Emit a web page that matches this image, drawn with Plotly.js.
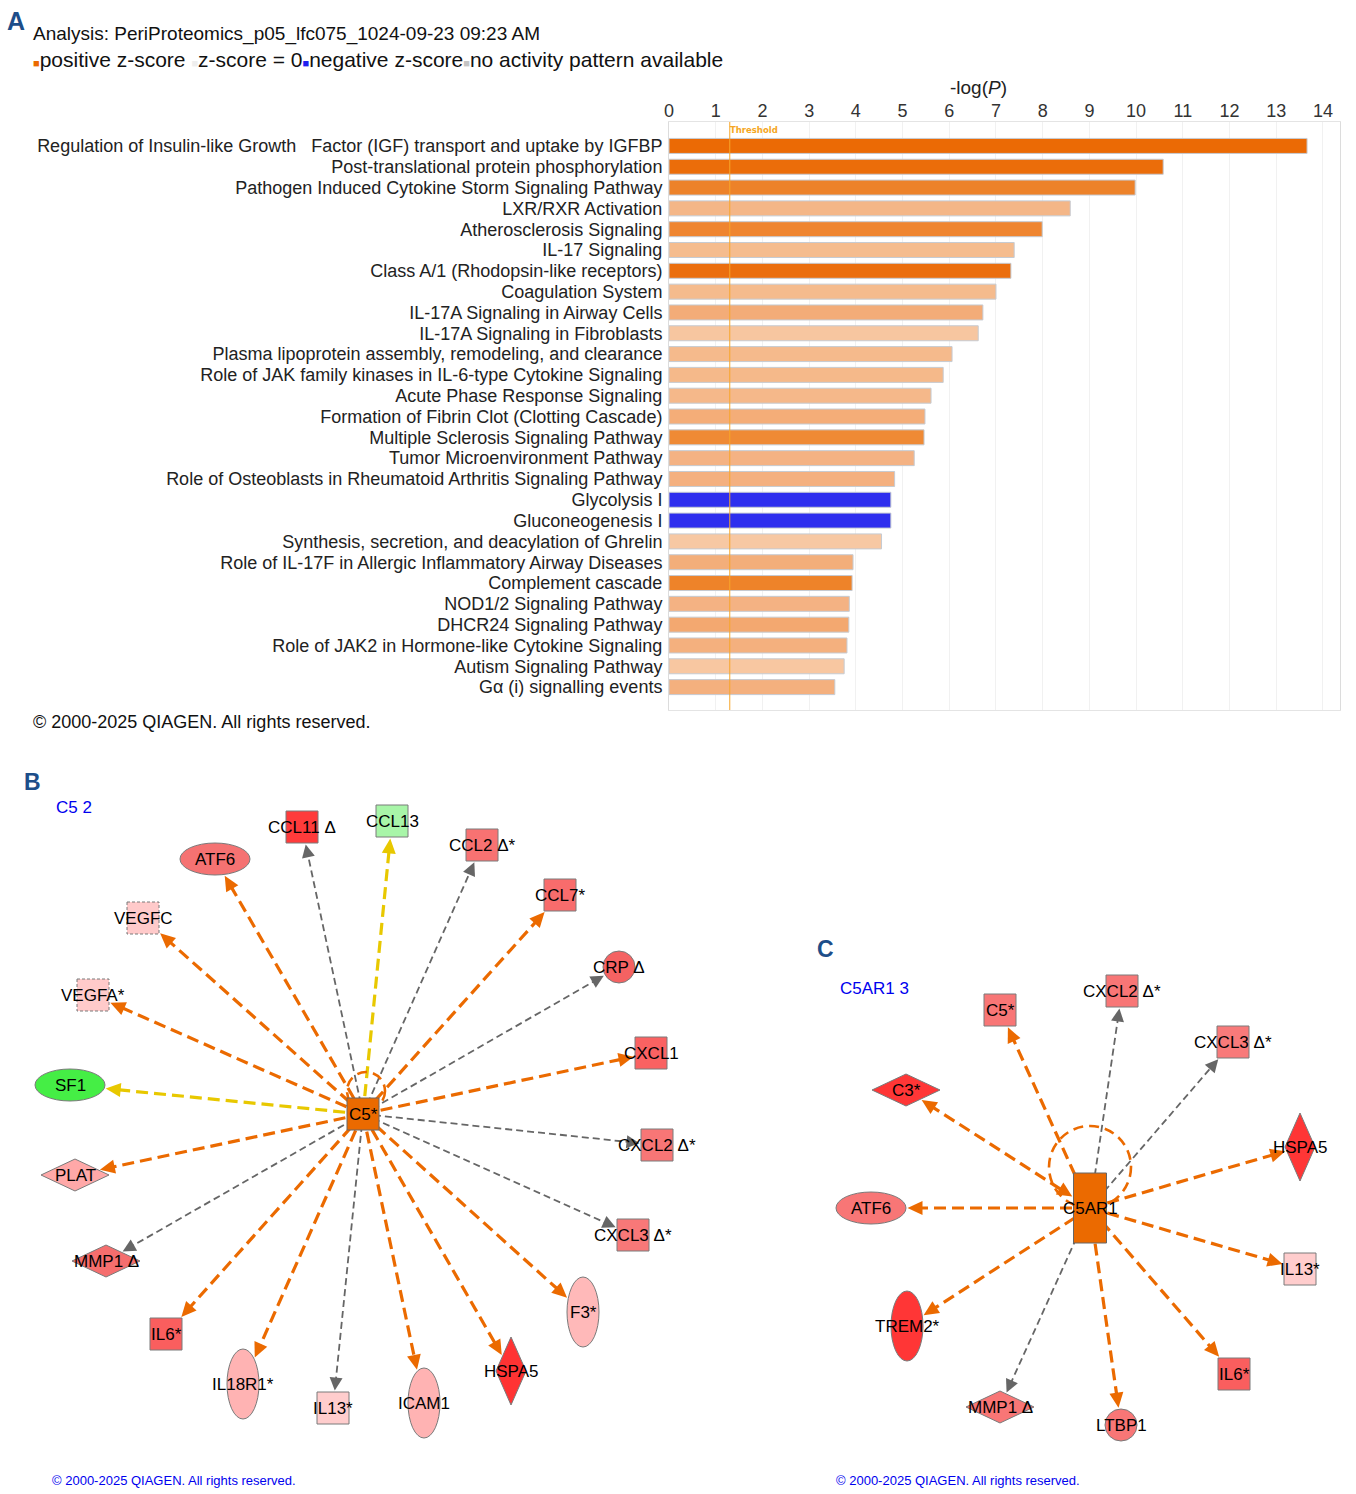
<!DOCTYPE html>
<html><head><meta charset="utf-8">
<script src="https://cdn.plot.ly/plotly-3.0.1.min.js"></script>
<style>html,body{margin:0;padding:0;background:#fff}#chart{width:1356px;height:1494px}</style>
</head><body><div id="chart"></div>
<script>
const W = 1356, H = 1494;

// ---------- Panel A data ----------
const pathways = [
  "Regulation of Insulin-like Growth\u00a0\u00a0 Factor (IGF) transport and uptake by IGFBP",
  "Post-translational protein phosphorylation",
  "Pathogen Induced Cytokine Storm Signaling Pathway",
  "LXR/RXR Activation",
  "Atherosclerosis Signaling",
  "IL-17 Signaling",
  "Class A/1 (Rhodopsin-like receptors)",
  "Coagulation System",
  "IL-17A Signaling in Airway Cells",
  "IL-17A Signaling in Fibroblasts",
  "Plasma lipoprotein assembly, remodeling, and clearance",
  "Role of JAK family kinases in IL-6-type Cytokine Signaling",
  "Acute Phase Response Signaling",
  "Formation of Fibrin Clot (Clotting Cascade)",
  "Multiple Sclerosis Signaling Pathway",
  "Tumor Microenvironment Pathway",
  "Role of Osteoblasts in Rheumatoid Arthritis Signaling Pathway",
  "Glycolysis I",
  "Gluconeogenesis I",
  "Synthesis, secretion, and deacylation of Ghrelin",
  "Role of IL-17F in Allergic Inflammatory Airway Diseases",
  "Complement cascade",
  "NOD1/2 Signaling Pathway",
  "DHCR24 Signaling Pathway",
  "Role of JAK2 in Hormone-like Cytokine Signaling",
  "Autism Signaling Pathway",
  "G\u03b1 (i) signalling events"
];
const negLogP = [13.66, 10.58, 9.98, 8.59, 7.99, 7.39, 7.32, 7.00, 6.72, 6.62,
                 6.06, 5.87, 5.61, 5.48, 5.46, 5.25, 4.83, 4.75, 4.75, 4.55,
                 3.94, 3.92, 3.86, 3.85, 3.81, 3.75, 3.55];
const zColors = ["#EB6A05","#EB6D0A","#ED8229","#F4B687","#EF8530","#F5BC8E","#EB6E0E","#F5BB8D","#F3AC78","#F7C6A0",
                 "#F5BA8C","#F5B98A","#F5B88A","#F4AD78","#EF8A35","#F4B283","#F4B07F","#2E2EEE","#2E2EEE","#F7C8A3",
                 "#F3AE7A","#EE8329","#F4B283","#F3A870","#F4B07E","#F8C7A1","#F4B07E"];
const xTicks = [0,1,2,3,4,5,6,7,8,9,10,11,12,13,14];
const threshold = 1.301;

// ---------- Panel B network (C5 2) ----------
const bNames = ["C5*","CCL11 \u0394","CCL13","CCL2 \u0394*","ATF6","CCL7*","VEGFC","CRP \u0394","VEGFA*","CXCL1","SF1",
                "CXCL2 \u0394*","PLAT","CXCL3 \u0394*","MMP1 \u0394","F3*","IL6*","IL18R1*","HSPA5","ICAM1","IL13*"];
const bX = [363,302,392,482,215,560,143,619,93,651,70,657,75,633,106,583,166,243,511,424,333];
const bY = [1114,827,821,845,859,895,918,967,995,1053,1085,1145,1175,1235,1261,1312,1334,1384,1371,1403,1408];
const bShape = ["sq","sq","sq","sq","ellH","sq","sq","circ","sq","sq","ellH","sq","dmH","sq","dmH","ellV","sq","ellV","dmV","ellV","sq"];
const bFill = ["#EB6A00","#FF3B3B","#A8F5A8","#F87272","#F57272","#F86C6C","#FFCACA","#F56262","#FFCACA","#FA6262","#45EE45",
               "#F87676","#FFA8A8","#F87878","#F56E6E","#FFB9B9","#FA5E5E","#FFB3B3","#FF3333","#FFB3B3","#FFCDCD"];
const bRel = [null,"g","y","g","o","o","o","g","o","o","y","g","o","g","g","o","o","o","o","o","g"];
const bPredicted = ["VEGFC","VEGFA*"];

// ---------- Panel C network (C5AR1 3) ----------
const cNames = ["C5AR1","C5*","CXCL2 \u0394*","CXCL3 \u0394*","C3*","HSPA5","ATF6","IL13*","TREM2*","IL6*","MMP1 \u0394","LTBP1"];
const cX = [1090,1000,1122,1233,906,1300,871,1300,907,1234,1000,1121];
const cY = [1208,1010,991,1042,1090,1147,1208,1269,1326,1374,1407,1425];
const cShape = ["rectV","sq","sq","sq","dmH","dmV","ellH","sq","ellV","sq","dmH","circ"];
const cFill = ["#EB6A00","#F87676","#F87676","#F87A7A","#FF3636","#FF3636","#F87676","#FFCDCD","#FF3636","#FA5E5E","#F87676","#F87676"];
const cRel = [null,"o","g","g","ob","o","o","o","o","o","g","o"];

// ---------- styles ----------
const FONT = "Liberation Sans, Arial, Helvetica, sans-serif";
const DIMS = {sq:[32,32], ellH:[70,32], ellV:[32,70], dmH:[68,32], dmV:[30,68], circ:[32,32], rectV:[33,70]};
const EDGE = {
  o:{color:"#EB6A00", width:3.2, dash:"12px,6px", L:15, hw:7},
  y:{color:"#E8C800", width:3.2, dash:"12px,6px", L:15, hw:7},
  g:{color:"#666666", width:1.8, dash:"7px,4px", L:13, hw:6.5}
};
const NET_TOP = 760;

function kBound(shape, dx, dy){
  const hw = DIMS[shape][0]/2, hh = DIMS[shape][1]/2;
  const ax = Math.abs(dx), ay = Math.abs(dy);
  if (shape === "sq" || shape === "rectV"){
    return Math.min(ax ? hw/ax : Infinity, ay ? hh/ay : Infinity);
  }
  if (shape.startsWith("ell") || shape === "circ"){
    return 1/Math.sqrt((dx/hw)**2 + (dy/hh)**2);
  }
  return 1/(ax/hw + ay/hh);
}

const traces = [], shapes = [], annotations = [];

function arrowPath(tx, ty, ux, uy, L, hw){
  const bx = tx - ux*L, by = ty - uy*L;
  const nx = -uy, ny = ux;
  return `M${tx},${ty} L${bx+nx*hw},${by+ny*hw} L${bx-nx*hw},${by-ny*hw} Z`;
}

function buildNet(names, xs, ys, shp, fills, rel, loop, dashed){
  const hx = xs[0], hy = ys[0];
  const arrows = [];
  for (let i = 1; i < names.length; i++){
    const tx = xs[i], ty = ys[i];
    const dx = tx-hx, dy = ty-hy, len = Math.hypot(dx, dy);
    const ux = dx/len, uy = dy/len;
    const st = EDGE[rel[i][0]];
    const kT = kBound(shp[i], dx, dy);
    const tipX = tx - dx*kT - ux*1.5, tipY = ty - dy*kT - uy*1.5;
    arrows.push({p:arrowPath(tipX, tipY, ux, uy, st.L, st.hw), c:st.color});
    let sx = hx, sy = hy;
    if (rel[i] === "ob"){
      const kH = kBound(shp[0], dx, dy);
      const hX = hx + dx*kH + ux*1.5, hY = hy + dy*kH + uy*1.5;
      arrows.push({p:arrowPath(hX, hY, -ux, -uy, st.L, st.hw), c:st.color});
      sx = hX + ux*(st.L-1); sy = hY + uy*(st.L-1);
    }
    traces.push({
      type:"scatter", mode:"lines", xaxis:"x2", yaxis:"y2",
      x:[sx, tipX - ux*(st.L-1)], y:[sy, tipY - uy*(st.L-1)],
      line:{color:st.color, width:st.width, dash:st.dash},
      hoverinfo:"skip", showlegend:false
    });
  }
  // self loop
  shapes.push({type:"circle", xref:"x2", yref:"y2", layer:"above",
    x0:loop[0]-loop[2], x1:loop[0]+loop[2], y0:loop[1]-loop[2], y1:loop[1]+loop[2],
    line:{color:"#EB6A00", width:2.6, dash:"10px,6px"}, fillcolor:"rgba(0,0,0,0)"});
  arrows.forEach(a => shapes.push({type:"path", xref:"x2", yref:"y2", layer:"above",
    path:a.p, fillcolor:a.c, line:{width:0}}));
  // nodes (hub last)
  const order = [];
  for (let i = 1; i < names.length; i++) order.push(i);
  order.push(0);
  order.forEach(i => {
    const w = DIMS[shp[i]][0]/2, h = DIMS[shp[i]][1]/2, x = xs[i], y = ys[i];
    const ln = {color: i===0 ? "#666" : "#7a7a7a", width:1, dash: dashed.includes(names[i]) ? "3px,2px" : "solid"};
    let s;
    if (shp[i] === "sq" || shp[i] === "rectV"){
      s = {type:"rect", x0:x-w, x1:x+w, y0:y-h, y1:y+h};
    } else if (shp[i].startsWith("ell") || shp[i] === "circ"){
      s = {type:"circle", x0:x-w, x1:x+w, y0:y-h, y1:y+h};
    } else {
      s = {type:"path", path:`M${x-w},${y} L${x},${y-h} L${x+w},${y} L${x},${y+h} Z`};
    }
    Object.assign(s, {xref:"x2", yref:"y2", layer:"above", fillcolor:fills[i], line:ln});
    shapes.push(s);
  });
  names.forEach((n, i) => annotations.push({
    xref:"x2", yref:"y2", x:xs[i], y:ys[i], text:n, showarrow:false,
    xanchor:"center", yanchor:"middle", font:{family:FONT, size:17, color:"#000"}
  }));
}

// ---------- Panel A traces ----------
traces.push({
  type:"bar", orientation:"h", x:negLogP, y:pathways, xaxis:"x", yaxis:"y",
  width:0.72,
  marker:{color:zColors, line:{color:"#c6cbd2", width:1}},
  hoverinfo:"skip", showlegend:false
});

shapes.push({type:"line", xref:"x", yref:"y domain", x0:threshold, x1:threshold, y0:0, y1:1,
  line:{color:"#F7A52A", width:1}, layer:"above"});

buildNet(bNames, bX, bY, bShape, bFill, bRel, [366,1091,19], bPredicted);
buildNet(cNames, cX, cY, cShape, cFill, cRel, [1090,1167,41], []);

function pa(text, px, py, size, color, opts){
  annotations.push(Object.assign({xref:"paper", yref:"paper", x:px/W, y:1-py/H, text:text,
    showarrow:false, xanchor:"left", yanchor:"middle",
    font:{family:FONT, size:size, color:color}}, opts||{}));
}
const LETTER = "#1D4E89";
const sq = c => `<span style="color:${c};font-size:11px">\u25A0</span>`;
pa("<b>A</b>", 5, 21, 25, LETTER);
pa("<b>B</b>", 22, 782, 23, LETTER);
pa("<b>C</b>", 815, 949, 23, LETTER);
pa("Analysis: PeriProteomics_p05_lfc075_1024-09-23 09:23 AM", 31, 34, 19, "#111");
pa(sq("#EB6A00") + "positive z-score " + sq("#eeeeee") + "z-score = 0" + sq("#1E1EF0") + "negative z-score" + sq("#c4c4c4") + "no activity pattern available", 31, 59, 21, "#111");
pa("-log(<i>P</i>)", 978, 87, 19, "#222", {xanchor:"center"});
pa("\u00a9 2000-2025 QIAGEN. All rights reserved.", 31, 722, 18, "#111");
pa("C5 2", 54, 807, 17, "#0000EE");
pa("C5AR1 3", 838, 988, 17, "#0000EE");
pa("\u00a9 2000-2025 QIAGEN. All rights reserved.", 50, 1480, 13, "#0000EE");
pa("\u00a9 2000-2025 QIAGEN. All rights reserved.", 834, 1480, 13, "#0000EE");
annotations.push({xref:"x", yref:"y domain", x:threshold, y:1, yanchor:"top", xanchor:"left",
  xshift:-2, yshift:-1, text:"<b>Threshold</b>", showarrow:false,
  font:{family:"DejaVu Sans, sans-serif", size:8.5, color:"#F5A623"}});

const layout = {
  width:W, height:H, margin:{l:0, r:0, t:0, b:0},
  paper_bgcolor:"#fff", plot_bgcolor:"rgba(0,0,0,0)",
  font:{family:FONT, color:"#222"},
  showlegend:false, hovermode:false,
  xaxis:{domain:[669/W, 1340/W], anchor:"y", side:"top", range:[0, 671/46.71],
    tickmode:"array", tickvals:xTicks, ticktext:xTicks.map(String),
    tickfont:{family:FONT, size:18, color:"#333"}, ticks:"", ticklabelstandoff:-3,
    showgrid:true, gridcolor:"#f1f1f1", zeroline:false,
    showline:true, linecolor:"#e4e4e4", linewidth:1, mirror:true, fixedrange:true},
  yaxis:{domain:[1-710/H, 1-122/H], anchor:"x", type:"category",
    categoryorder:"array", categoryarray:pathways, range:[27.1, -1.15],
    tickmode:"array", tickvals:pathways, ticktext:pathways,
    tickfont:{family:FONT, size:18, color:"#222"}, ticks:"", ticklabelstandoff:2,
    showgrid:false, zeroline:false, showline:true, linecolor:"#dcdcdc", linewidth:1, mirror:true, fixedrange:true},
  xaxis2:{domain:[0,1], anchor:"y2", range:[0, W], visible:false, fixedrange:true},
  yaxis2:{domain:[0, (H-NET_TOP)/H], anchor:"x2", range:[H, NET_TOP], visible:false, fixedrange:true},
  shapes:shapes, annotations:annotations
};

Plotly.newPlot("chart", traces, layout, {displayModeBar:false, staticPlot:true});
</script>
</body></html>
